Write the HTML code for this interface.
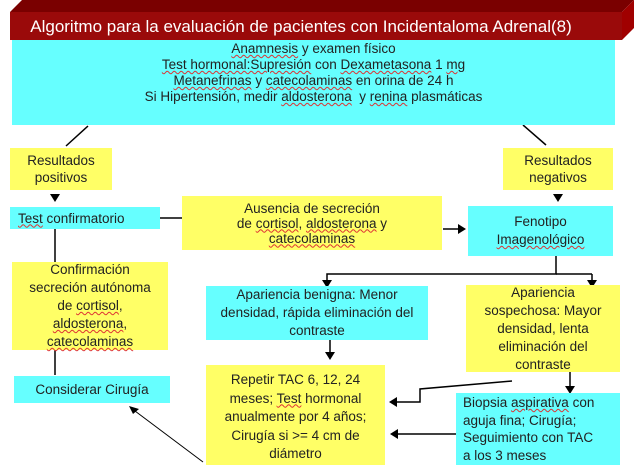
<!DOCTYPE html>
<html><head><meta charset="utf-8"><style>
body{margin:0;width:637px;height:465px;background:#fff;position:relative;overflow:hidden;font-family:"Liberation Sans","DejaVu Sans",sans-serif;font-size:13.5px;color:#222}
.b{position:absolute;box-sizing:border-box;text-align:center;line-height:15px;display:flex;align-items:center;justify-content:center;white-space:nowrap}
.y{background:#ffff66}.c{background:#66ffff}
u{text-decoration:underline wavy #d33;text-decoration-thickness:1px;text-underline-offset:1px}
svg{position:absolute;left:0;top:0}
</style></head><body>
<svg width="637" height="465">
<polygon points="10,12 22,0 634,0 622,12" fill="#7a0000"/>
<polygon points="622,12 634,0 634,28 622,40" fill="#a00000"/>
<rect x="10" y="12" width="612" height="28" fill="#9a0a0a"/>
<g stroke="#000" stroke-width="1.5" fill="none">
<line x1="88" y1="126" x2="66" y2="146"/><line x1="523" y1="125" x2="546" y2="145"/>
<line x1="160" y1="218" x2="182" y2="218"/>
<line x1="443" y1="229" x2="458" y2="229"/>
<line x1="55" y1="228" x2="55" y2="262"/><line x1="55" y1="350" x2="55" y2="375"/>
<polyline points="556,256 556,274 327,274 327,283"/><line x1="556" y1="274" x2="592" y2="274"/><line x1="592" y1="274" x2="592" y2="283"/>
<line x1="330" y1="340" x2="330" y2="352"/>
<polyline points="512,381 420,389 420,402 397,402"/>
<line x1="570" y1="372" x2="570" y2="386"/>
<line x1="456" y1="434" x2="398" y2="434"/>
<line x1="613" y1="345" x2="613" y2="358" stroke-width="2"/>
</g>
<line x1="203" y1="462" x2="135" y2="411" stroke="#000" stroke-width="1"/>
<g fill="#000">
<polygon points="50,194 60,194 55,202"/><polygon points="553,194 563,194 558,202"/>
<polygon points="458,224 466,229 458,234"/>
<polygon points="322,280 332,280 327,288"/><polygon points="587,280 597,280 592,288"/>
<polygon points="325,352 335,352 330,360"/>
<polygon points="397,397 389,402 397,407"/>
<polygon points="565,386 575,386 570,394"/>
<polygon points="398,429 390,434 398,439"/>
<polygon points="129,406 139,409 133,414"/>
</g>
</svg>
<div class="b" style="left:10px;top:12px;width:612px;height:28px;color:#fff;font-size:17px;padding-right:30px">Algoritmo para la evaluación de pacientes con Incidentaloma Adrenal(8)</div>
<div class="b c" style="left:12px;top:40px;width:603px;height:85px;align-items:flex-start;padding-top:1px;line-height:16px"><div><u>Anamnesis</u> y examen físico<br><u>Test hormonal:Supresión</u> con <u>Dexametasona</u> 1 <u>mg</u><br><u>Metanefrinas</u> y <u>catecolaminas</u> en orina de 24 h<br>Si Hipertensión, medir <u>aldosterona</u>&nbsp; y <u>renina</u>&nbsp;plasmáticas</div></div>
<div class="b y" style="left:10px;top:148px;width:102px;height:42px;line-height:17px">Resultados<br>positivos</div>
<div class="b y" style="left:503px;top:148px;width:110px;height:42px;line-height:17px">Resultados<br>negativos</div>
<div class="b c" style="left:10px;top:207px;width:150px;height:22px;justify-content:flex-start;padding-left:8px"><span><u>Test</u> confirmatorio</span></div>
<div class="b y" style="left:182px;top:196px;width:260px;height:54px"><div>Ausencia de secreción<br>de <u>cortisol</u>, <u>aldosterona</u> y<br><u>catecolaminas</u></div></div>
<div class="b c" style="left:468px;top:206px;width:145px;height:50px;line-height:18px"><div>Fenotipo<br><u>Imagenológico</u></div></div>
<div class="b y" style="left:12px;top:262px;width:156px;height:88px;line-height:18px"><div>Confirmación<br>secreción autónoma<br>de <u>cortisol</u>,<br><u>aldosterona</u>,<br><u>catecolaminas</u></div></div>
<div class="b c" style="left:206px;top:286px;width:222px;height:54px;line-height:18px"><div>Apariencia benigna: Menor<br>densidad, rápida eliminación del<br>contraste</div></div>
<div class="b y" style="left:466px;top:285px;width:154px;height:87px;line-height:18px"><div>Apariencia<br>sospechosa: Mayor<br>densidad, lenta<br>eliminación del<br>contraste</div></div>
<div class="b c" style="left:14px;top:376px;width:156px;height:27px">Considerar Cirugía</div>
<div class="b y" style="left:206px;top:365px;width:179px;height:100px;align-items:flex-start;padding-top:6px;line-height:18.5px"><div>Repetir TAC 6, 12, 24<br>meses; <u>Test</u> hormonal<br>anualmente por 4 años;<br>Cirugía si &gt;= 4 cm de<br>diámetro</div></div>
<div class="b c" style="left:456px;top:393px;width:164px;height:72px;justify-content:flex-start;padding-left:7px;text-align:left;line-height:17.5px"><div>Biopsia <u>aspirativa</u> con<br>aguja fina; Cirugía;<br>Seguimiento con TAC<br>a los 3 meses</div></div>
</body></html>
